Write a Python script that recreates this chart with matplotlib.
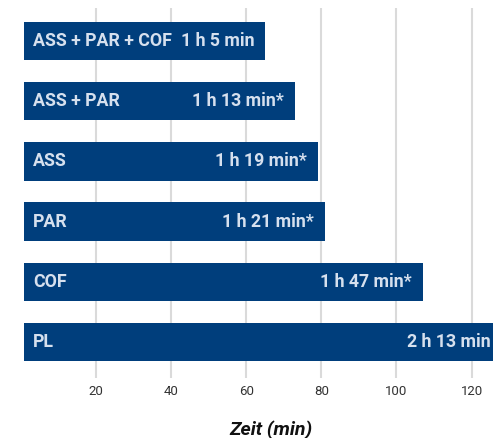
import matplotlib
matplotlib.use("Agg")
import matplotlib.pyplot as plt

# Bearbeitungszeit je Verfahren in Minuten
categories = ["PL", "COF", "PAR", "ASS", "ASS + PAR", "ASS + PAR + COF"]
minutes = [133, 107, 81, 79, 73, 65]
value_labels = ["2 h 13 min", "1 h 47 min*", "1 h 21 min*", "1 h 19 min*",
                "1 h 13 min*", "1 h 5 min"]
x_ticks = [20, 40, 60, 80, 100, 120]

BAR_COLOR = "#003e7c"
TEXT_ON_BAR = "#d6e0ee"
GRID_COLOR = "#dadada"

plt.rcParams["font.family"] = ["Roboto", "DejaVu Sans"]

fig = plt.figure(figsize=(4.93, 4.38), dpi=100)
ax = fig.add_axes([24 / 493, 60 / 438, 1 - 24 / 493, 370 / 438])

xmin, xmax = 0.83, 125.7
positions = list(range(len(categories)))
ax.barh(positions, minutes, height=0.635, color=BAR_COLOR, zorder=2)
ax.set_xlim(xmin, xmax)
ax.set_ylim(-0.6, 5.55)

for y, name, v, lab in zip(positions, categories, minutes, value_labels):
    ax.annotate(name, xy=(xmin, y), xytext=(9, 0), textcoords="offset pixels",
                ha="left", va="center", color=TEXT_ON_BAR, fontsize=12.8,
                fontweight="bold", zorder=3)
    # labels of bars running past the axis end sit at the right edge
    if v > xmax:
        anchor, dx = xmax, -2
    else:
        anchor, dx = v, -11
    ax.annotate(lab, xy=(anchor, y), xytext=(dx, 0), textcoords="offset pixels",
                ha="right", va="center", color=TEXT_ON_BAR, fontsize=12.8,
                fontweight="bold", zorder=3)

ax.set_xticks(x_ticks)
ax.set_yticks([])
ax.xaxis.grid(True, color=GRID_COLOR, linewidth=1.5, zorder=0)
ax.set_axisbelow(True)
for side in ["top", "right", "bottom", "left"]:
    ax.spines[side].set_visible(False)
ax.tick_params(axis="x", length=0, pad=5, labelsize=9.5, labelcolor="#333333")
ax.set_xlabel("Zeit (min)", fontsize=14, fontweight="bold", style="italic",
              color="#111111")
ax.xaxis.set_label_coords((271 - 24) / (493 - 24), -0.115)

fig.savefig("out.png", dpi=100)
